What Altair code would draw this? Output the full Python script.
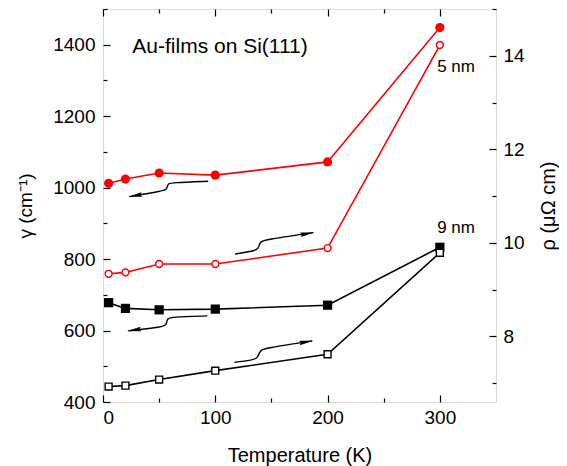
import altair as alt
import pandas as pd

# ---------------- data ----------------
T = [5, 20, 50, 100, 200, 300]
gamma_5nm = [1012, 1024, 1041, 1035, 1072, 1448]
gamma_9nm = [678, 662, 658, 660, 671, 833]
rho_5nm = [9.34, 9.37, 9.55, 9.55, 9.89, 14.23]
rho_9nm = [6.93, 6.95, 7.08, 7.27, 7.62, 9.79]
films = ["5 nm", "9 nm"]

# curly arrows (in temperature / gamma units)
arrow1_T = [93.7, 61.2, 58.1, 57.2, 56.7, 54.3, 23.4]
arrow1_g = [1018, 1014, 1011, 1003, 996, 991, 975]
arrow2_T = [117.5, 135.3, 138.3, 139.1, 140.4, 143.3, 187.2]
arrow2_g = [814, 823, 830, 840, 848, 854, 874]
arrow3_T = [92.9, 60.3, 57.6, 56.7, 56.1, 53.7, 22.5]
arrow3_g = [641, 638, 633, 624, 616, 610, 599]
arrow4_T = [116.9, 134.7, 137.7, 138.9, 140.4, 143.3, 186.3]
arrow4_g = [511, 518, 525, 535, 544, 550, 571]
head_left_T = [28.5, 27.6]
head_left_g = [977.5, 601.5]
head_right_T = [182.1, 181.2]
head_right_g = [871.5, 568.3]

x_major = [0, 100, 200, 300]
x_minor = [50, 150, 250]
g_major = [400, 600, 800, 1000, 1200, 1400]
g_minor = [500, 700, 900, 1100, 1300, 1500]
r_major = [8, 10, 12, 14]
r_minor = [7, 9, 11, 13, 15]

G_DOM = [400, 1500]
R_DOM = [6.6, 15]
X_DOM = [0, 350]
FONT = "Liberation Sans"

# ---------------- tables ----------------
df_g = pd.DataFrame({
    "T": T * 2,
    "v": gamma_5nm + gamma_9nm,
    "film": [films[0]] * len(T) + [films[1]] * len(T),
})
df_r = pd.DataFrame({
    "T": T * 2,
    "v": rho_5nm + rho_9nm,
    "film": [films[0]] * len(T) + [films[1]] * len(T),
})
arrows = []
for i, (ax, ay) in enumerate([(arrow1_T, arrow1_g), (arrow2_T, arrow2_g),
                              (arrow3_T, arrow3_g), (arrow4_T, arrow4_g)]):
    for k, (a, b) in enumerate(zip(ax, ay)):
        arrows.append({"arrow": i, "k": k, "T": a, "v": b})
df_arrow = pd.DataFrame(arrows)
df_hl = pd.DataFrame({"T": head_left_T, "v": head_left_g})
df_hr = pd.DataFrame({"T": head_right_T, "v": head_right_g})
df_title = pd.DataFrame({"T": [26.1], "v": [1377], "text": ["Au-films on Si(111)"]})
df_nm = pd.DataFrame({"T": [297.6, 297.6], "v": [1323, 874], "text": ["5 nm", "9 nm"]})

color_scale = alt.Scale(domain=films, range=["#ff0000", "#000000"])
shape_scale = alt.Scale(domain=films, range=["circle", "square"])

def xs(axis=None):
    return alt.X("T:Q", scale=alt.Scale(domain=X_DOM, nice=False, zero=False), axis=axis)

def yg(axis=None):
    return alt.Y("v:Q", scale=alt.Scale(domain=G_DOM, nice=False, zero=False), axis=axis)

def yr(axis=None):
    return alt.Y("v:Q", scale=alt.Scale(domain=R_DOM, nice=False, zero=False), axis=axis)

common = dict(grid=False, domain=False, tickColor="black", tickWidth=1.2,
              labelFont=FONT, titleFont=FONT, labelColor="black", titleColor="black",
              titleFontWeight="normal")

ax_xb = alt.Axis(orient="bottom", values=x_major, offset=-7, tickSize=7, labelPadding=6,
                 labelFontSize=19, format="d", title="Temperature (K)", titleFontSize=20,
                 titlePadding=18, **common)
ax_xb_min = alt.Axis(orient="bottom", values=x_minor, offset=-4, tickSize=4,
                     labels=False, title=None, **common)
ax_xt = alt.Axis(orient="top", values=x_major, offset=-7, tickSize=7,
                 labels=False, title=None, **common)
ax_xt_min = alt.Axis(orient="top", values=x_minor, offset=-4, tickSize=4,
                     labels=False, title=None, **common)
ax_yl = alt.Axis(orient="left", values=g_major, offset=-7, tickSize=7, labelPadding=8,
                 labelFontSize=19, format="d", title="γ (cm⁻¹)", titleFontSize=19,
                 titlePadding=17, **common)
ax_yl_min = alt.Axis(orient="left", values=g_minor, offset=-4, tickSize=4,
                     labels=False, title=None, **common)
ax_yr = alt.Axis(orient="right", values=r_major, offset=-7, tickSize=7, labelPadding=7,
                 labelFontSize=19, format="d", title="ρ (μΩ cm)", titleFontSize=20,
                 titleAngle=270, titleBaseline="top", titlePadding=14, **common)
ax_yr_min = alt.Axis(orient="right", values=r_minor, offset=-4, tickSize=4,
                     labels=False, title=None, **common)

color = alt.Color("film:N", scale=color_scale, legend=None)
shape = alt.Shape("film:N", scale=shape_scale, legend=None)

g_line = alt.Chart(df_g).mark_line(strokeWidth=1.6).encode(
    x=xs(ax_xb), y=yg(ax_yl), color=color, detail="film:N")
g_pts = alt.Chart(df_g).mark_point(filled=True, size=85, opacity=1, strokeWidth=1).encode(
    x=xs(), y=yg(), color=color, shape=shape)
r_line = alt.Chart(df_r).mark_line(strokeWidth=1.6).encode(
    x=xs(ax_xt), y=yr(ax_yr), color=color, detail="film:N")
r_pts = alt.Chart(df_r).mark_point(filled=False, fill="white", size=48, opacity=1,
                                   strokeWidth=1.4).encode(
    x=xs(), y=yr(), color=color, shape=shape)
minor1 = alt.Chart(df_g).mark_point(opacity=0).encode(x=xs(ax_xb_min), y=yg(ax_yl_min))
minor2 = alt.Chart(df_r).mark_point(opacity=0).encode(x=xs(ax_xt_min), y=yr(ax_yr_min))

arrow_lines = alt.Chart(df_arrow).mark_line(color="black", strokeWidth=1.4,
                                            interpolate="basis").encode(
    x=xs(), y=yg(), detail="arrow:N", order="k:Q")
heads_l = alt.Chart(df_hl).mark_point(filled=True, color="black", size=200, angle=351,
                                      opacity=1, shape="M-1,0L1,-0.32L0.8,0L1,0.32Z").encode(
    x=xs(), y=yg())
heads_r = alt.Chart(df_hr).mark_point(filled=True, color="black", size=200, angle=351,
                                      opacity=1, shape="M1,0L-1,-0.32L-0.8,0L-1,0.32Z").encode(
    x=xs(), y=yg())
title_txt = alt.Chart(df_title).mark_text(align="left", baseline="alphabetic", font=FONT,
                                          fontSize=21, color="black").encode(
    x=xs(), y=yg(), text="text:N")
nm_txt = alt.Chart(df_nm).mark_text(align="left", baseline="alphabetic", font=FONT,
                                    fontSize=17, color="black").encode(
    x=xs(), y=yg(), text="text:N")

chart = alt.layer(
    minor1, minor2, arrow_lines, heads_l, heads_r, g_line, r_line, g_pts, r_pts,
    title_txt, nm_txt
).resolve_scale(y="independent").resolve_axis(x="independent", y="independent").properties(
    width=393, height=393,
    padding={"left": 95, "top": 1, "right": 63, "bottom": 64},
    autosize=alt.AutoSizeParams(type="none"),
).configure_view(stroke="black", strokeWidth=1.4).configure(background="white")

chart.save("out.html", embed_options={"renderer": "svg", "actions": False})
